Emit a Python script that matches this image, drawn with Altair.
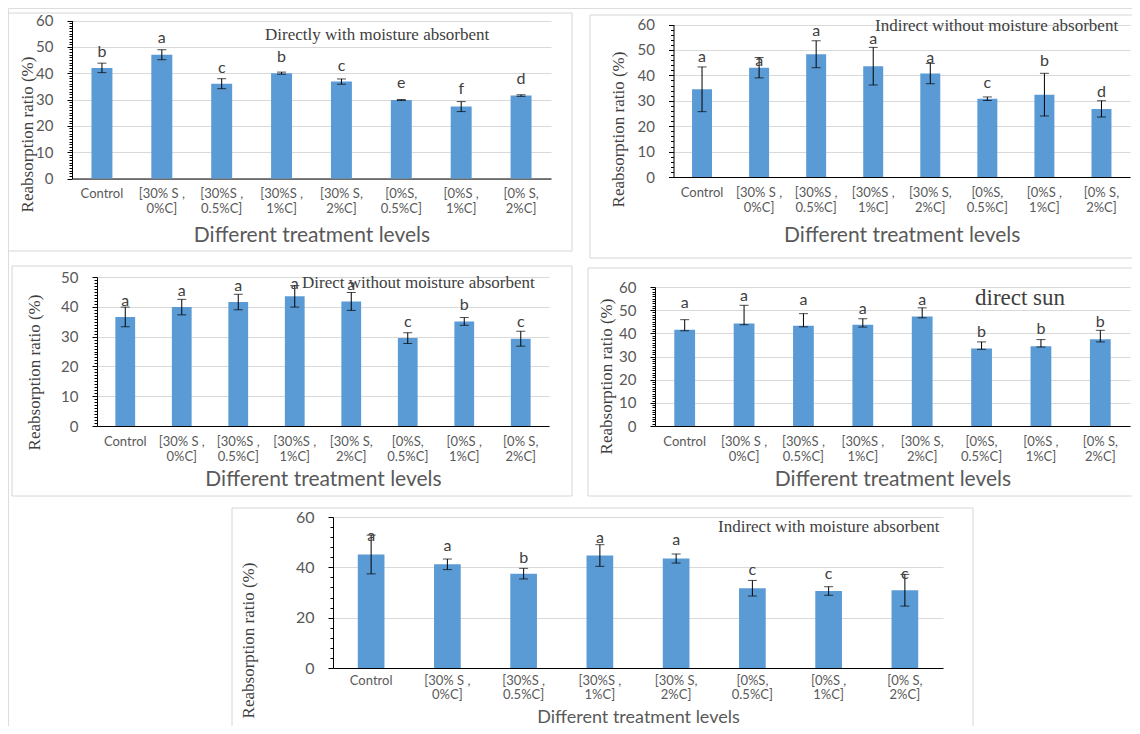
import altair as alt
import pandas as pd

# ---------------- data ----------------
categories = ["Control", "[30% S ,\n0%C]", "[30%S ,\n0.5%C]", "[30%S ,\n1%C]",
              "[30% S,\n2%C]", "[0%S,\n0.5%C]", "[0%S ,\n1%C]", "[0% S,\n2%C]"]

# Panel 1: Directly with moisture absorbent
p1_mean = [42.0, 47.0, 36.0, 40.0, 36.8, 29.8, 27.3, 31.5]
p1_err = [1.8, 1.9, 1.9, 0.4, 1.0, 0.2, 1.9, 0.3]
p1_letters = ["b", "a", "c", "b", "c", "e", "f", "d"]
p1_letter_y = [48.2, 53.3, 42.1, 46.3, 42.9, 36.2, 33.9, 37.8]

# Panel 2: Indirect without moisture absorbent
p2_mean = [34.5, 43.0, 48.3, 43.6, 40.7, 30.8, 32.4, 26.8]
p2_err = [8.8, 4.0, 5.3, 7.4, 4.0, 0.7, 8.4, 3.2]
p2_letters = ["a", "a", "a", "a", "a", "c", "b", "d"]
p2_letter_y = [47.2, 45.7, 57.5, 54.2, 47.0, 37.0, 45.5, 33.5]

# Panel 3: Direct without moisture absorbent
p3_mean = [36.6, 39.9, 41.6, 43.5, 41.8, 29.5, 35.1, 29.3]
p3_err = [3.3, 2.6, 2.6, 3.6, 3.0, 1.8, 1.3, 2.5]
p3_letters = ["a", "a", "a", "a", "a", "c", "b", "c"]
p3_letter_y = [41.8, 45.2, 46.9, 47.8, 47.4, 34.9, 40.7, 34.9]

# Panel 4: direct sun
p4_mean = [41.6, 44.2, 43.3, 43.7, 47.3, 33.4, 34.4, 37.4]
p4_err_up = [4.3, 7.9, 5.2, 2.6, 3.7, 2.9, 2.9, 3.9]
p4_err_dn = [0.5, 0.5, 0.5, 1.0, 0.6, 0.3, 0.3, 1.1]
p4_letters = ["a", "a", "a", "a", "a", "b", "b", "b"]
p4_letter_y = [53.1, 56.0, 54.5, 50.6, 54.2, 40.6, 42.0, 44.9]

# Panel 5: Indirect with moisture absorbent
p5_mean = [45.1, 41.2, 37.5, 44.7, 43.5, 31.7, 30.6, 30.9]
p5_err = [7.7, 2.1, 2.1, 4.3, 1.8, 3.1, 1.7, 6.3]
p5_letters = ["a", "a", "b", "a", "a", "c", "c", "c"]
p5_letter_y = [52.4, 48.4, 43.8, 51.7, 50.7, 38.8, 37.2, 37.2]

# ---------------- styling / layout ----------------
M = 8            # page margin
W, H = 1124, 718  # chart size (page minus margins)
BAR = "#5b9bd5"
GRID = "#d9d9d9"
LBL = "#595959"
DARK = "#404040"
SANS = "Lato"
SERIF = "Liberation Serif"

dummy = pd.DataFrame({"k": [0]})


def panel(mean, err_up, err_dn, letters, letter_y, title, L):
    df = pd.DataFrame({
        "cat": categories,
        "mean": mean,
        "lo": [m - d for m, d in zip(mean, err_dn)],
        "hi": [m + u for m, u in zip(mean, err_up)],
        "letter": letters,
        "ly": letter_y,
    })
    caps = pd.DataFrame({
        "cat": categories + categories,
        "v": list(df["lo"]) + list(df["hi"]),
    })
    xs = alt.Scale(domain=categories, range=[L["ax"] - M, L["xend"] - M],
                   paddingInner=0.65, paddingOuter=0.325)
    ys = alt.Scale(domain=[0, L["ymax"]], range=[L["y0"] - M, L["ytop"] - M],
                   nice=False, zero=True)
    majors = list(range(0, L["ymax"] + 1, L["major"]))
    minors = [v for v in range(0, L["ymax"] + 1, L["minor"]) if v % L["major"] != 0]

    x_axis = alt.Axis(
        orient="bottom", offset=(L["y0"] - M) - H,
        title="Different treatment levels", titleFont=SANS, titleFontSize=L["xt_size"],
        titleColor=LBL, titleFontWeight="normal", titleY=L["xt_dy"], titleBaseline="middle",
        labelFont=SANS, labelFontSize=L["xl_size"], labelColor=LBL, labelAngle=0,
        labelPadding=L["lpad"], labelLineHeight=L["lh"], labelBaseline="top",
        labelOverlap=False, labelExpr="split(datum.label, '\\n')",
        ticks=False, domainColor="black", domainWidth=1, grid=False)
    y_axis = alt.Axis(
        orient="left", offset=-(L["ax"] - M), values=majors,
        title="Reabsorption ratio (%)", titleFont=SERIF, titleFontSize=17,
        titleColor=DARK, titleFontWeight="normal", titleAngle=270,
        titleX=L["yt_x"] - L["ax"], titleY=L["yt_y"] - M, titleBaseline="middle",
        titleAlign="center",
        labelFont=SANS, labelFontSize=L["yl_size"], labelColor=LBL, labelPadding=14,
        tickSize=5, tickColor="black", domainColor="black", domainWidth=1,
        grid=True, gridColor=GRID, gridWidth=1)
    y_minor = alt.Axis(
        orient="left", offset=-(L["ax"] - M), values=minors, labels=False,
        domain=False, grid=False, tickSize=3, tickColor="black")

    bars = alt.Chart(df).mark_bar(color=BAR).encode(
        x=alt.X("cat:N", scale=xs, axis=x_axis),
        y=alt.Y("mean:Q", scale=ys, axis=y_axis),
    )
    rules = alt.Chart(df).mark_rule(color="black", strokeWidth=1).encode(
        x=alt.X("cat:N", scale=xs, axis=None),
        y=alt.Y("lo:Q", scale=ys, axis=y_minor, title=""),
        y2="hi:Q",
    )
    capm = alt.Chart(caps).mark_tick(orient="horizontal", size=9, thickness=1,
                                     color="black").encode(
        x=alt.X("cat:N", scale=xs, axis=None),
        y=alt.Y("v:Q", scale=ys, axis=None),
    )
    lets = alt.Chart(df).mark_text(font=SANS, fontSize=16, color=DARK,
                                   baseline="middle").encode(
        x=alt.X("cat:N", scale=xs, axis=None),
        y=alt.Y("ly:Q", scale=ys, axis=None),
        text="letter:N",
    )
    ttl = alt.Chart(dummy).mark_text(font=SERIF, fontSize=L["t_size"], color=DARK,
                                     align="left", baseline="middle").encode(
        x=alt.value(L["tx"] - M), y=alt.value(L["ty"] - M), text=alt.value(title),
    )
    border = alt.Chart(dummy).mark_rect(fillOpacity=0, stroke="#d6d6d6",
                                        strokeWidth=1).encode(
        x=alt.value(L["b"][0] - M), x2=alt.value(L["b"][2] - M),
        y=alt.value(L["b"][1] - M), y2=alt.value(L["b"][3] - M),
    )
    return [border, bars, rules, capm, lets, ttl]


L1 = dict(ax=72, xend=551, y0=178.5, ytop=20.5, ymax=60, major=10, minor=1,
          b=(7, 13, 572, 251), tx=265, ty=35, t_size=17, yt_x=27, yt_y=134,
          xt_dy=57, xt_size=21, xl_size=13, yl_size=15, lpad=9, lh=15)
L2 = dict(ax=673.5, xend=1130, y0=177, ytop=24.5, ymax=60, major=10, minor=2,
          b=(590, 15, 1150, 258), tx=875, ty=26, t_size=17, yt_x=618, yt_y=129,
          xt_dy=58, xt_size=21, xl_size=13, yl_size=15, lpad=9, lh=15)
L3 = dict(ax=97, xend=549, y0=426, ytop=277, ymax=50, major=10, minor=1,
          b=(12, 266, 572, 496), tx=302, ty=283, t_size=17, yt_x=34, yt_y=372,
          xt_dy=53, xt_size=21, xl_size=13, yl_size=15, lpad=9, lh=15)
L4 = dict(ax=655, xend=1130, y0=426, ytop=287, ymax=60, major=10, minor=1,
          b=(588, 268, 1150, 496), tx=975, ty=298, t_size=23, yt_x=606, yt_y=376,
          xt_dy=53, xt_size=21, xl_size=13, yl_size=15, lpad=9, lh=15)
L5 = dict(ax=333, xend=943, y0=668, ytop=517, ymax=60, major=20, minor=4,
          b=(232, 508, 973, 745), tx=718, ty=527, t_size=17, yt_x=248, yt_y=640,
          xt_dy=49, xt_size=18, xl_size=13, yl_size=16, lpad=6, lh=14)

layers = []
layers += panel(p1_mean, p1_err, p1_err, p1_letters, p1_letter_y,
                "Directly with moisture absorbent", L1)
layers += panel(p2_mean, p2_err, p2_err, p2_letters, p2_letter_y,
                "Indirect without moisture absorbent", L2)
layers += panel(p3_mean, p3_err, p3_err, p3_letters, p3_letter_y,
                "Direct without moisture absorbent", L3)
layers += panel(p4_mean, p4_err_up, p4_err_dn, p4_letters, p4_letter_y,
                "direct sun", L4)
layers += panel(p5_mean, p5_err, p5_err, p5_letters, p5_letter_y,
                "Indirect with moisture absorbent", L5)

chart = alt.layer(*layers).resolve_scale(
    x="independent", y="independent"
).resolve_axis(
    x="independent", y="independent"
).properties(
    width=W, height=H, padding=0,
    autosize=alt.AutoSizeParams(type="none"),
).configure_view(strokeWidth=0).configure(background="white")

chart.save("out.html", embed_options={"renderer": "svg", "actions": False})
